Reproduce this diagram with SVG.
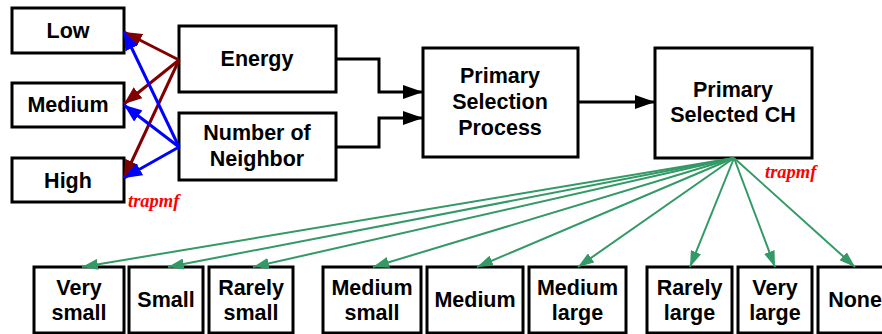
<svg xmlns="http://www.w3.org/2000/svg" width="882" height="334" viewBox="0 0 882 334">
<style>
.box{fill:#fff;stroke:#000;stroke-width:3}
.t{font-family:"Liberation Sans",Arial,sans-serif;font-weight:bold;font-size:21.5px;fill:#000;text-anchor:middle}
.tm{font-family:"Liberation Serif","Times New Roman",serif;font-weight:bold;font-style:italic;font-size:18.5px;fill:#ff0000}
.br{stroke:#800000;stroke-width:3;fill:none;marker-end:url(#mBr)}
.bl{stroke:#0000ff;stroke-width:3;fill:none;marker-end:url(#mBl)}
.bk{stroke:#000;stroke-width:3;fill:none;marker-end:url(#mBk)}
.gr{stroke:#339966;stroke-width:2;fill:none;marker-end:url(#mGr)}
</style>
<defs>
<marker id="mBr" markerUnits="userSpaceOnUse" markerWidth="18" markerHeight="14" refX="18" refY="7" orient="auto"><path d="M0,0 L18,7 L0,14 z" fill="#800000"/></marker>
<marker id="mBl" markerUnits="userSpaceOnUse" markerWidth="18" markerHeight="14" refX="18" refY="7" orient="auto"><path d="M0,0 L18,7 L0,14 z" fill="#0000ff"/></marker>
<marker id="mBk" markerUnits="userSpaceOnUse" markerWidth="20" markerHeight="14" refX="20" refY="7" orient="auto"><path d="M0,0 L20,7 L0,14 z" fill="#000"/></marker>
<marker id="mGr" markerUnits="userSpaceOnUse" markerWidth="16" markerHeight="11" refX="16" refY="5.5" orient="auto"><path d="M0,0 L16,5.5 L0,11 z" fill="#339966"/></marker>
</defs>

<g id="low"><rect class="box" x="12" y="8" width="112" height="45"/><text class="t" x="68" y="38">Low</text></g>
<g id="medium"><rect class="box" x="12" y="83" width="112" height="44"/><text class="t" x="68" y="112">Medium</text></g>
<g id="high"><rect class="box" x="12" y="158" width="112" height="44"/><text class="t" x="68" y="188">High</text></g>
<g id="energy"><rect class="box" x="179" y="26" width="157" height="66"/><text class="t" x="257" y="66">Energy</text></g>
<g id="neighbor"><rect class="box" x="179" y="113" width="157" height="67"/><text class="t" x="257" y="140">Number of</text><text class="t" x="257" y="166">Neighbor</text></g>
<g id="psp"><rect class="box" x="423" y="48" width="155" height="109"/><text class="t" x="500" y="83">Primary</text><text class="t" x="500" y="109">Selection</text><text class="t" x="500" y="135">Process</text></g>
<g id="psch"><rect class="box" x="655" y="48" width="157" height="110"/><text class="t" x="733" y="97">Primary</text><text class="t" x="733" y="122">Selected CH</text></g>

<g id="verysmall"><rect class="box" x="34" y="267" width="90" height="66"/><text class="t" x="79" y="295">Very</text><text class="t" x="79" y="320">small</text></g>
<g id="small"><rect class="box" x="129" y="267" width="74" height="66"/><text class="t" x="166" y="307">Small</text></g>
<g id="rarelysmall"><rect class="box" x="209" y="267" width="84" height="66"/><text class="t" x="251" y="295">Rarely</text><text class="t" x="251" y="320">small</text></g>
<g id="mediumsmall"><rect class="box" x="323" y="267" width="98" height="66"/><text class="t" x="372" y="295">Medium</text><text class="t" x="372" y="320">small</text></g>
<g id="mediumout"><rect class="box" x="427" y="267" width="96" height="66"/><text class="t" x="475" y="307">Medium</text></g>
<g id="mediumlarge"><rect class="box" x="529" y="267" width="97" height="66"/><text class="t" x="577.5" y="295">Medium</text><text class="t" x="577.5" y="320">large</text></g>
<g id="rarelylarge"><rect class="box" x="647" y="267" width="85" height="66"/><text class="t" x="689.5" y="295">Rarely</text><text class="t" x="689.5" y="320">large</text></g>
<g id="verylarge"><rect class="box" x="738" y="267" width="74" height="66"/><text class="t" x="775" y="295">Very</text><text class="t" x="775" y="320">large</text></g>
<g id="none"><rect class="box" x="818" y="267" width="74" height="66"/><text class="t" x="855" y="307">None</text></g>

<g id="labels">
<text class="tm" x="128" y="207">trapmf</text>
<text class="tm" x="765" y="178">trapmf</text>
</g>

<g id="connectors">
<line class="br" x1="179" y1="60" x2="124" y2="32"/>
<line class="br" x1="179" y1="60" x2="124" y2="104"/>
<line class="br" x1="179" y1="60" x2="124" y2="178"/>
<line class="bl" x1="179" y1="147" x2="124" y2="32"/>
<line class="bl" x1="179" y1="147" x2="124" y2="105"/>
<line class="bl" x1="179" y1="147" x2="124" y2="178"/>
<polyline class="bk" points="336,59 379,59 379,92 423,92"/>
<polyline class="bk" points="336,147 379,147 379,118 423,118"/>
<line class="bk" x1="578" y1="102" x2="655" y2="102"/>
<line class="gr" x1="734" y1="158" x2="82" y2="267"/>
<line class="gr" x1="734" y1="158" x2="168" y2="267"/>
<line class="gr" x1="734" y1="158" x2="253" y2="267"/>
<line class="gr" x1="734" y1="158" x2="373" y2="267"/>
<line class="gr" x1="734" y1="158" x2="477" y2="267"/>
<line class="gr" x1="734" y1="158" x2="578" y2="267"/>
<line class="gr" x1="734" y1="158" x2="690" y2="267"/>
<line class="gr" x1="734" y1="158" x2="775" y2="267"/>
<line class="gr" x1="734" y1="158" x2="855" y2="267"/>
</g>
</svg>
